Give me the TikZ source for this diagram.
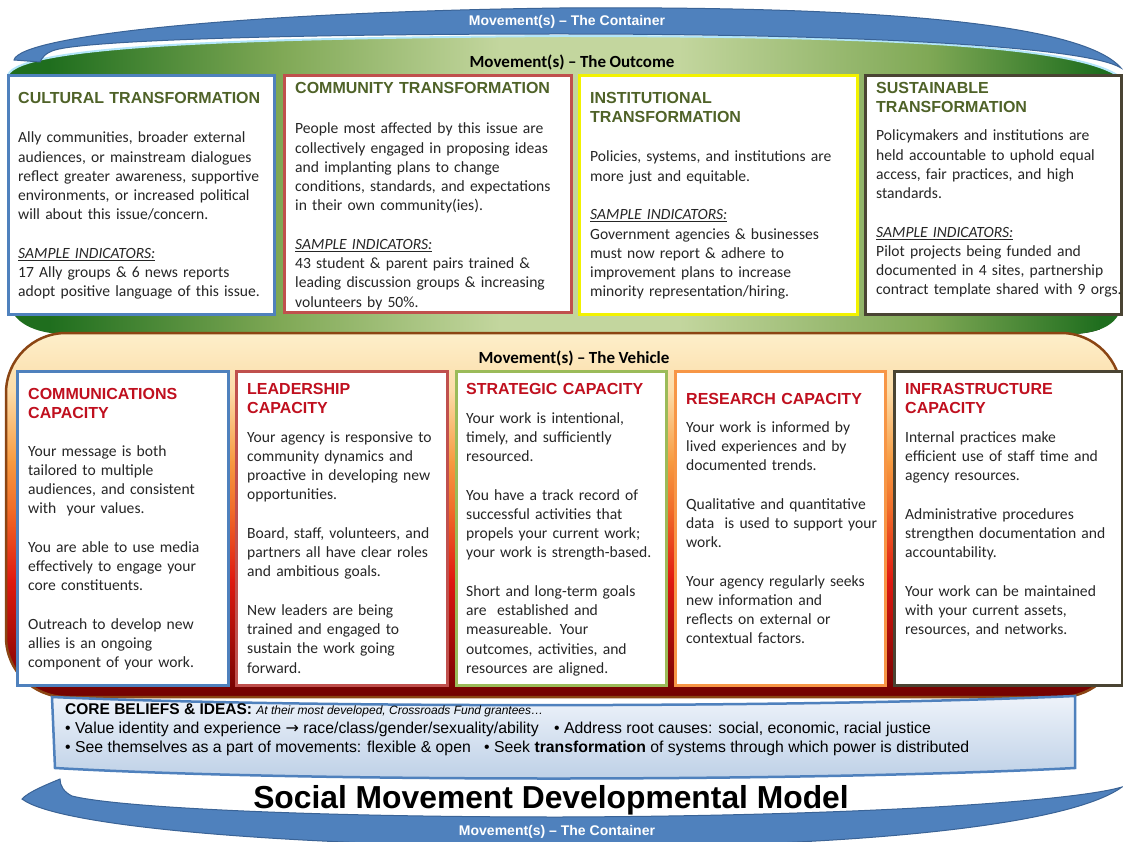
\documentclass[tikz,border=0pt]{standalone}
\usepackage{fontspec}
\setmainfont{Carlito}[WordSpace=0.9]
\newfontfamily\arialf{Liberation Sans}
\newfontfamily\djv{DejaVu Sans}
\definecolor{swb}{HTML}{4F81BD}
\definecolor{swd}{HTML}{3A6396}
\definecolor{cblue}{HTML}{4F81BD}
\definecolor{cred}{HTML}{C0504D}
\definecolor{cyel}{HTML}{F2F200}
\definecolor{cbrn}{HTML}{4A4433}
\definecolor{cgrn}{HTML}{9BBB59}
\definecolor{corg}{HTML}{F79646}
\definecolor{otc}{HTML}{4F6228}
\definecolor{vtc}{HTML}{C0101F}
\definecolor{gdk}{HTML}{1F6E1E}
\definecolor{gmd}{HTML}{7FA855}
\definecolor{glt}{HTML}{C3D69E}
\definecolor{vbrn}{HTML}{8B4513}
\definecolor{cream}{HTML}{FDF0CC}
\definecolor{peach}{HTML}{FCDCA8}
\definecolor{orng}{HTML}{F79A40}
\definecolor{ored}{HTML}{F06A28}
\definecolor{vred}{HTML}{E01A10}
\definecolor{dred}{HTML}{6E0000}
\definecolor{cbtop}{HTML}{EEF3FA}
\definecolor{cbbot}{HTML}{BCCFE6}
\begin{document}
\begin{tikzpicture}[x=1pt,y=-1pt,
  swoosh/.style={fill=swb, draw=swd, line width=1pt},
  obox/.style={draw, line width=3pt, fill=white, anchor=north west, inner sep=0pt},
  otitle/.style={anchor=base west, inner sep=0pt, text width=#1, align=left,
    font=\arialf\bfseries\fontsize{16}{19}\selectfont, text=otc},
  vtitle/.style={anchor=base west, inner sep=0pt, text width=#1, align=left,
    font=\arialf\bfseries\fontsize{16}{19}\selectfont, text=vtc},
  body/.style={anchor=base west, inner sep=0pt, text width=300pt, align=left,
    font=\fontsize{15.6}{19.2}\selectfont, text=black!85},
  band/.style={inner sep=0pt, font=\bfseries\fontsize{17}{19}\selectfont},
  cont/.style={inner sep=0pt, text=white, font=\arialf\bfseries\fontsize{14}{16}\selectfont},
  cb/.style={anchor=base west, inner sep=0pt, font=\arialf\fontsize{15.8}{18}\selectfont}
]
\newcommand\smp{\textit{\underline{SAMPLE INDICATORS:}}}
\useasboundingbox (0,0) rectangle (1123,842);
\fill[white] (0,0) rectangle (1123,842);

% ---------- green outcome band ----------
\begin{scope}
\clip (8,75) .. controls (20,45) and (250,38) .. (560,36) .. controls (880,36) and (1090,45) .. (1123,80)
  -- (1123,295) .. controls (1123,322) and (1105,332) .. (1075,334) -- (60,334)
  .. controls (30,332) and (8,320) .. (8,295) -- cycle;
\fill[gdk] (0,0) rectangle (50,340);
\fill[left color=gdk, right color=gmd] (49,0) rectangle (280,340);
\fill[left color=gmd, right color=glt] (279,0) rectangle (500,340);
\fill[glt] (499,0) rectangle (680,340);
\fill[left color=glt, right color=gmd] (679,0) rectangle (930,340);
\fill[left color=gmd, right color=gdk] (929,0) rectangle (1100,340);
\fill[gdk] (1099,0) rectangle (1130,340);
\end{scope}
\draw[cyan!30!white, line width=2pt] (8,75) .. controls (20,45) and (250,38) .. (560,36) .. controls (880,36) and (1090,45) .. (1123,80);

% ---------- top container swoosh ----------
\path[swoosh] (14,60) .. controls (20,35) and (250,12) .. (560,8) .. controls (850,6) and (1080,20) .. (1121,68)
  .. controls (1090,48) and (880,34) .. (560,34) .. controls (300,34) and (90,40) .. (55,50)
  .. controls (45,53) and (42,58) .. (40,62) -- cycle;
\node[cont] (topc) at (567,22) {Movement(s) – The Container};
\node[band] (outc) at (572,62) {Movement(s) – The Outcome};

% ---------- vehicle band ----------
\begin{scope}
\clip[rounded corners=60pt] (6,333) rectangle (1121,697);
\fill[top color=cream, bottom color=peach] (0,330) rectangle (1130,392);
\fill[top color=peach, bottom color=orng] (0,391) rectangle (1130,462);
\fill[top color=orng, bottom color=ored] (0,461) rectangle (1130,512);
\fill[top color=ored, bottom color=vred] (0,511) rectangle (1130,580);
\fill[top color=vred, bottom color=dred] (0,579) rectangle (1130,700);
\end{scope}
\draw[vbrn, line width=2.5pt, rounded corners=60pt] (6,333) rectangle (1121,697);
\node[band] (vehc) at (574,358) {Movement(s) – The Vehicle};

% ---------- outcome boxes ----------
\node[obox, draw=cblue, minimum width=266pt, minimum height=239pt] (cult) at (7,74) {};
\node[obox, draw=cred, minimum width=287pt, minimum height=237pt] (comm) at (283,74) {};
\node[obox, draw=cyel, minimum width=278pt, minimum height=239pt] (inst) at (578,74) {};
\node[obox, draw=cbrn, minimum width=256pt, minimum height=239pt] (sust) at (864,74) {};

\node[otitle=260pt] (cultT) at (18,103.5) {CULTURAL TRANSFORMATION};
\node[body] (cultB) at (18,143) {Ally communities, broader external\\
audiences, or mainstream dialogues\\
reflect greater awareness, supportive\\
environments, or increased political\\
will about this issue/concern.\\[19.5pt]
\smp\\
17 Ally groups \& 6 news reports\\
adopt positive language of this issue.};

\node[otitle=275pt] (commT) at (295,93.5) {COMMUNITY TRANSFORMATION};
\node[body] (commB) at (295,134) {People most affected by this issue are\\
collectively engaged in proposing ideas\\
and implanting plans to change\\
conditions, standards, and expectations\\
in their own community(ies).\\[19.5pt]
\smp\\
43 student \& parent pairs trained \&\\
leading discussion groups \& increasing\\
volunteers by 50\%.};

\node[otitle=260pt] (instT) at (590,104) {INSTITUTIONAL\\ TRANSFORMATION};
\node[body] (instB) at (590,162) {Policies, systems, and institutions are\\
more just and equitable.\\[19.5pt]
\smp\\
Government agencies \& businesses\\
must now report \& adhere to\\
improvement plans to increase\\
minority representation/hiring.};

\node[otitle=240pt] (sustT) at (876,94) {SUSTAINABLE\\ TRANSFORMATION};
\node[body] (sustB) at (876,141) {Policymakers and institutions are\\
held accountable to uphold equal\\
access, fair practices, and high\\
standards.\\[19.5pt]
\smp\\
Pilot projects being funded and\\
documented in 4 sites, partnership\\
contract template shared with 9 orgs.};

% ---------- vehicle boxes ----------
\node[obox, draw=cblue, minimum width=211pt, minimum height=314pt] (comms) at (16,370) {};
\node[obox, draw=cred, minimum width=211pt, minimum height=314pt] (lead) at (235,370) {};
\node[obox, draw=cgrn, minimum width=210pt, minimum height=314pt] (strat) at (455,370) {};
\node[obox, draw=corg, minimum width=210pt, minimum height=314pt] (res) at (674,370) {};
\node[obox, draw=cbrn, minimum width=228pt, minimum height=314pt] (infra) at (893,370) {};

\node[vtitle=195pt] (commsT) at (28,399) {COMMUNICATIONS\\ CAPACITY};
\node[body] (commsB) at (28,456) {Your message is both\\
tailored to multiple\\
audiences, and consistent\\
with \ your values.\\[19.5pt]
You are able to use media\\
effectively to engage your\\
core constituents.\\[19.5pt]
Outreach to develop new\\
allies is an ongoing\\
component of your work.};

\node[vtitle=195pt] (leadT) at (247,394) {LEADERSHIP\\ CAPACITY};
\node[body] (leadB) at (247,442) {Your agency is responsive to\\
community dynamics and\\
proactive in developing new\\
opportunities.\\[19.5pt]
Board, staff, volunteers, and\\
partners all have clear roles\\
and ambitious goals.\\[19.5pt]
New leaders are being\\
trained and engaged to\\
sustain the work going\\
forward.};

\node[vtitle=195pt] (stratT) at (466,394) {STRATEGIC CAPACITY};
\node[body] (stratB) at (466,423) {Your work is intentional,\\
timely, and sufficiently\\
resourced.\\[19.5pt]
You have a track record of\\
successful activities that\\
propels your current work;\\
your work is strength-based.\\[19.5pt]
Short and long-term goals\\
are \ established and\\
measureable. Your\\
outcomes, activities, and\\
resources are aligned.};

\node[vtitle=195pt] (resT) at (686,404) {RESEARCH CAPACITY};
\node[body] (resB) at (686,432) {Your work is informed by\\
lived experiences and by\\
documented trends.\\[19.5pt]
Qualitative and quantitative\\
data \ is used to support your\\
work.\\[19.5pt]
Your agency regularly seeks\\
new information and\\
reflects on external or\\
contextual factors.};

\node[vtitle=210pt] (infraT) at (905,394) {INFRASTRUCTURE\\ CAPACITY};
\node[body] (infraB) at (905,442) {Internal practices make\\
efficient use of staff time and\\
agency resources.\\[19.5pt]
Administrative procedures\\
strengthen documentation and\\
accountability.\\[19.5pt]
Your work can be maintained\\
with your current assets,\\
resources, and networks.};

% ---------- bottom container swoosh ----------
\path[swoosh] (60,779) .. controls (48,784) and (28,792) .. (22,799) .. controls (60,828) and (300,846) .. (560,847)
  .. controls (860,848) and (1070,825) .. (1122,787) .. controls (1070,802) and (850,816) .. (560,817)
  .. controls (320,817) and (120,808) .. (72,796) .. controls (64,792) and (60,786) .. (60,779) -- cycle;
\node[cont] (botc) at (557,832) {Movement(s) – The Container};

% ---------- core beliefs band ----------
\path[top color=cbtop, bottom color=cbbot, draw=swb, line width=2.5pt]
  (52,697) .. controls (300,708) and (800,708) .. (1075,696) -- (1075,768)
  .. controls (800,782) and (300,782) .. (55,768) -- cycle;
\node[cb, font=\arialf\fontsize{15.5}{18}\selectfont] (cbT) at (65,714) {\bfseries CORE BELIEFS \& IDEAS: {\mdseries\itshape\fontsize{12}{14}\selectfont At their most developed, Crossroads Fund grantees…}};
\node[cb] (cb1) at (65,733) {• Value identity and experience {\djv\fontsize{16}{18}\selectfont →} race/class/gender/sexuality/ability};
\node[cb] (cb2) at (554,733) {• Address root causes: social, economic, racial justice};
\node[cb] (cb3) at (65,752) {• See themselves as a part of movements: flexible \& open};
\node[cb] (cb4) at (484,752) {• Seek \textbf{transformation} of systems through which power is distributed};

% ---------- title ----------
\node[inner sep=0pt, anchor=base, font=\arialf\bfseries\fontsize{31.8}{36}\selectfont] (title) at (551,808) {Social Movement Developmental Model};
\end{tikzpicture}
\end{document}
